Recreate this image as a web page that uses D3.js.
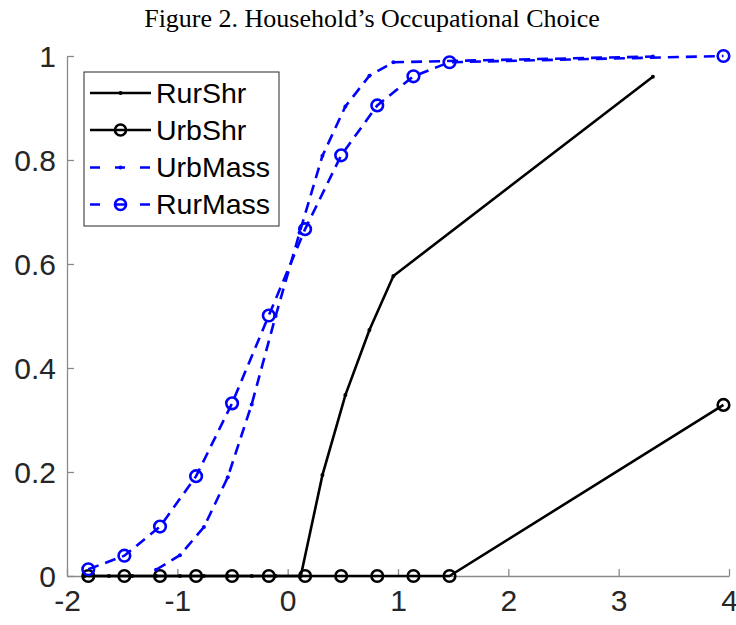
<!DOCTYPE html>
<html>
<head>
<meta charset="utf-8">
<script src="https://cdn.jsdelivr.net/npm/d3@7"></script>
<style>
  body { margin: 0; background: #fff; }
  svg { display: block; }
</style>
</head>
<body>
<svg id="chart"></svg>
<script>
// Data
let seriesNames = ["RurShr", "UrbShr", "UrbMass", "RurMass"];

let coarseX = [-1.807, -1.48, -1.157, -0.83, -0.504, -0.171, 0.158, 0.485, 0.812, 1.14, 1.467, 3.95];
let fineX = [-1.84, -1.62, -1.41, -1.193, -0.976, -0.759, -0.543, -0.326, -0.109, 0.119, 0.315, 0.523, 0.741, 0.958, 3.31];

let rurShr = [0, 0, 0, 0, 0, 0, 0, 0, 0, 0, 0.194, 0.348, 0.473, 0.577, 0.96];
let urbShr = [0, 0, 0, 0, 0, 0, 0, 0, 0, 0, 0, 0.329];
let urbMassX = [-1.193, -0.976, -0.759, -0.543, -0.326, -0.109, 0.108, 0.315, 0.523, 0.741, 0.958, 3.31];
let urbMass = [0.012, 0.04, 0.094, 0.19, 0.33, 0.5, 0.66, 0.808, 0.903, 0.962, 0.988, 0.999];
let rurMass = [0.013, 0.039, 0.095, 0.192, 0.332, 0.501, 0.667, 0.809, 0.905, 0.961, 0.988, 1.0];

let xTicks = [-2, -1, 0, 1, 2, 3, 4];
let yTicks = [0, 0.2, 0.4, 0.6, 0.8, 1];

let titleText = "Figure 2. Household\u2019s Occupational Choice";

// Layout
let width = 736;
let height = 625;
let plotLeft = 67;
let plotRight = 729;
let plotTop = 56;
let plotBottom = 576;

let axisColor = "#8a8a8a";
let blue = "#0000ff";

let svg = d3.select("#chart").attr("width", width).attr("height", height);

let xScale = d3.scaleLinear().domain([-2, 4]).range([plotLeft, plotRight]);
let yScale = d3.scaleLinear().domain([0, 1]).range([plotBottom, plotTop]);

let zip = (xs, ys) => xs.map((x, i) => [x, ys[i]]);

let line = d3.line()
  .x((d) => xScale(d[0]))
  .y((d) => yScale(d[1]));

let drawTitle = () => {
  svg.append("text")
    .attr("x", 372)
    .attr("y", 27)
    .attr("text-anchor", "middle")
    .style("font-family", "'Liberation Serif', 'DejaVu Serif', serif")
    .style("font-size", "26px")
    .attr("fill", "#000")
    .text(titleText);
};

let drawAxes = () => {
  let xAxis = d3.axisBottom(xScale).tickValues(xTicks)
    .tickSizeInner(-7).tickSizeOuter(0).tickPadding(14);
  let yAxis = d3.axisLeft(yScale).tickValues(yTicks).tickFormat((d) => d3.format("")(d))
    .tickSizeInner(-7).tickSizeOuter(0).tickPadding(11);

  let gx = svg.append("g")
    .attr("transform", "translate(0," + plotBottom + ")")
    .call(xAxis);
  let gy = svg.append("g")
    .attr("transform", "translate(" + plotLeft + ",0)")
    .call(yAxis);

  [gx, gy].forEach((g) => {
    g.select(".domain").attr("stroke", axisColor).attr("stroke-width", 1.3);
    g.selectAll(".tick line").attr("stroke", axisColor).attr("stroke-width", 1.3);
    g.selectAll(".tick text")
      .attr("fill", "#262626")
      .style("font-family", "'Liberation Sans', Arial, sans-serif")
      .style("font-size", "30px");
  });
  gx.selectAll(".tick text").text((d) => (d < 0 ? "-" + Math.abs(d) : d));
  gy.selectAll(".tick text").attr("dy", "0.36em");
};

let drawSeries = () => {
  // RurShr: solid black with point markers
  let rs = zip(fineX, rurShr);
  svg.append("path").datum(rs)
    .attr("d", line).attr("fill", "none").attr("stroke", "#000").attr("stroke-width", 2.6);
  svg.append("g").selectAll("circle").data(rs).enter().append("circle")
    .attr("cx", (d) => xScale(d[0])).attr("cy", (d) => yScale(d[1]))
    .attr("r", 2).attr("fill", "#000");

  // UrbShr: solid black with open circles
  let us = zip(coarseX, urbShr);
  svg.append("path").datum(us)
    .attr("d", line).attr("fill", "none").attr("stroke", "#000").attr("stroke-width", 2.6);
  svg.append("g").selectAll("circle").data(us).enter().append("circle")
    .attr("cx", (d) => xScale(d[0])).attr("cy", (d) => yScale(d[1]))
    .attr("r", 5.8).attr("fill", "none").attr("stroke", "#000").attr("stroke-width", 2.6);

  // UrbMass: dashed blue with point markers
  let um = zip(urbMassX, urbMass);
  svg.append("path").datum(um)
    .attr("d", line).attr("fill", "none").attr("stroke", blue).attr("stroke-width", 2.6)
    .attr("stroke-dasharray", "11,7");
  svg.append("g").selectAll("circle").data(um).enter().append("circle")
    .attr("cx", (d) => xScale(d[0])).attr("cy", (d) => yScale(d[1]))
    .attr("r", 2).attr("fill", blue);

  // RurMass: dashed blue with open circles
  let rm = zip(coarseX, rurMass);
  svg.append("path").datum(rm)
    .attr("d", line).attr("fill", "none").attr("stroke", blue).attr("stroke-width", 2.6)
    .attr("stroke-dasharray", "11,7");
  svg.append("g").selectAll("circle").data(rm).enter().append("circle")
    .attr("cx", (d) => xScale(d[0])).attr("cy", (d) => yScale(d[1]))
    .attr("r", 5.8).attr("fill", "none").attr("stroke", blue).attr("stroke-width", 2.6);
};

let drawLegend = () => {
  let lx = 84, ly = 72, lw = 195, lh = 154;
  let rowY = [93, 130, 167.5, 204.5];
  let styles = [
    { color: "#000", dash: null, marker: "dot" },
    { color: "#000", dash: null, marker: "circle" },
    { color: blue, dash: "10,15", marker: "dot" },
    { color: blue, dash: "10,15", marker: "circle" },
  ];

  let g = svg.append("g");
  g.append("rect")
    .attr("x", lx).attr("y", ly).attr("width", lw).attr("height", lh)
    .attr("fill", "#fff").attr("stroke", "#262626").attr("stroke-width", 1);

  seriesNames.forEach((name, i) => {
    let s = styles[i];
    let y = rowY[i];
    g.append("line")
      .attr("x1", 90).attr("x2", 151).attr("y1", y).attr("y2", y)
      .attr("stroke", s.color).attr("stroke-width", 2.6)
      .attr("stroke-dasharray", s.dash);
    if (s.marker === "dot") {
      g.append("circle").attr("cx", 120.5).attr("cy", y).attr("r", 2).attr("fill", s.color);
    } else {
      g.append("circle").attr("cx", 120.5).attr("cy", y).attr("r", 5.5)
        .attr("fill", "none").attr("stroke", s.color).attr("stroke-width", 2.6);
    }
    g.append("text")
      .attr("x", 156).attr("y", y).attr("dy", "0.35em")
      .style("font-family", "'Liberation Sans', Arial, sans-serif")
      .style("font-size", "28.5px")
      .attr("fill", "#000")
      .text(name);
  });
};

drawTitle();
drawAxes();
drawSeries();
drawLegend();
</script>
</body>
</html>
